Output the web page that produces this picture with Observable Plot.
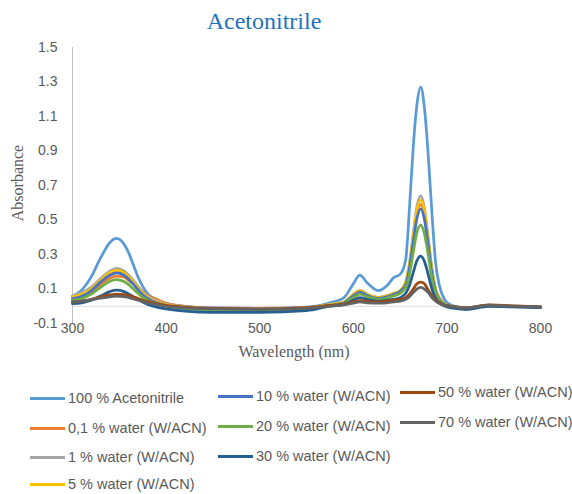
<!DOCTYPE html>
<html>
<head>
<meta charset="utf-8">
<script src="https://cdn.jsdelivr.net/npm/d3@7"></script>
<script src="https://cdn.jsdelivr.net/npm/@observablehq/plot@0.6"></script>
<style>
  html, body { margin: 0; padding: 0; background: #fff; }
  #wrap { position: relative; width: 572px; height: 494px; background: #fff; overflow: hidden; }
  #chart { position: absolute; left: 0; top: 0; }
  .title { position: absolute; left: 164px; top: 8px; width: 200px; text-align: center;
           font-family: "Liberation Serif", "Times New Roman", serif; font-size: 24px; line-height: 26px; color: #1E73BE; white-space: nowrap; }
  .axlabel { position: absolute; font-family: "Liberation Serif", "Times New Roman", serif; font-size: 16px; color: #595959; white-space: nowrap; line-height: 18px; }
  .leg { position: absolute; height: 18px; display: flex; align-items: center; white-space: nowrap;
         font-family: "Liberation Sans", Arial, sans-serif; font-size: 14.5px; color: #595959; }
  .leg .sw { display: inline-block; width: 35px; height: 3px; margin-right: 3px; }
</style>
</head>
<body>
<div id="wrap">
  <div id="chart"></div>
</div>
<script>
// ---- data ----
const wavelengths = [300,310,320,330,340,347,355,360,365,370, 375,380,390,400,420,450,500,550,575,590, 600,607,615,627,636,643,650,656,660,664, 668,672,676,680,684,688,692,698,705,720, 745,770,800];

const seriesNames = [
  "100 % Acetonitrile",
  "0,1 % water (W/ACN)",
  "1 % water (W/ACN)",
  "5 % water (W/ACN)",
  "10 % water (W/ACN)",
  "20 % water (W/ACN)",
  "30 % water (W/ACN)",
  "50 % water (W/ACN)",
  "70 % water (W/ACN)"
];
const seriesColors = ["#5B9BD5","#ED7D31","#A5A5A5","#FFC000","#4472C4","#70AD47","#255E91","#9E480E","#636363"];

const acn100  = [0.058,0.095,0.17,0.28,0.37,0.393,0.36,0.31,0.24,0.17, 0.115,0.075,0.035,0.015,0.0,-0.01,-0.012,-0.005,0.02,0.05, 0.13,0.18,0.135,0.09,0.12,0.165,0.185,0.27,0.57,0.92, 1.17,1.27,1.15,0.88,0.54,0.25,0.12,0.035,0.005,-0.01, 0.006,0.0,-0.004];
const water01 = [0.05,0.06,0.085,0.125,0.163,0.174,0.168,0.15,0.13,0.105, 0.085,0.065,0.04,0.018,0.0,-0.012,-0.015,-0.008,0.008,0.022, 0.062,0.085,0.065,0.048,0.057,0.07,0.085,0.13,0.23,0.385, 0.535,0.59,0.525,0.37,0.2,0.09,0.045,0.012,0.0,-0.012, 0.005,0.0,-0.005];
const water1  = [0.06,0.08,0.11,0.16,0.205,0.22,0.205,0.18,0.15,0.115, 0.085,0.06,0.03,0.012,-0.002,-0.01,-0.012,-0.008,0.01,0.025, 0.07,0.092,0.07,0.052,0.062,0.075,0.09,0.14,0.25,0.42, 0.58,0.64,0.57,0.40,0.22,0.10,0.05,0.015,0.0,-0.01, 0.006,0.002,-0.004];
const water5  = [0.055,0.07,0.10,0.15,0.195,0.208,0.195,0.17,0.14,0.105, 0.075,0.052,0.025,0.008,-0.005,-0.015,-0.018,-0.01,0.01,0.025, 0.068,0.09,0.068,0.05,0.06,0.075,0.09,0.14,0.24,0.40, 0.56,0.615,0.55,0.385,0.21,0.095,0.045,0.012,0.0,-0.012, 0.004,0.0,-0.005];
const water10 = [0.045,0.058,0.09,0.14,0.18,0.193,0.18,0.157,0.128,0.095, 0.067,0.045,0.018,0.003,-0.012,-0.02,-0.025,-0.018,0.005,0.02, 0.06,0.082,0.062,0.045,0.055,0.068,0.085,0.125,0.22,0.37, 0.51,0.565,0.505,0.355,0.19,0.085,0.04,0.01,-0.002,-0.015, 0.003,-0.002,-0.006];
const water20 = [0.035,0.045,0.07,0.11,0.145,0.154,0.143,0.125,0.1,0.075, 0.052,0.035,0.013,0.0,-0.012,-0.02,-0.022,-0.015,0.005,0.015, 0.05,0.07,0.055,0.04,0.048,0.06,0.075,0.11,0.185,0.31, 0.43,0.47,0.42,0.30,0.16,0.075,0.035,0.01,0.0,-0.012, 0.005,0.0,-0.004];
const water30 = [0.015,0.02,0.035,0.06,0.085,0.093,0.085,0.072,0.055,0.04, 0.025,0.012,-0.005,-0.015,-0.028,-0.035,-0.035,-0.025,0.0,0.01, 0.035,0.05,0.04,0.03,0.035,0.04,0.05,0.075,0.12,0.195, 0.265,0.29,0.26,0.185,0.10,0.045,0.02,0.0,-0.01,-0.018, 0.0,-0.004,-0.008];
const water50 = [0.025,0.03,0.04,0.055,0.066,0.07,0.068,0.062,0.055,0.045, 0.035,0.028,0.015,0.005,-0.005,-0.012,-0.015,-0.008,0.005,0.012, 0.025,0.032,0.028,0.025,0.03,0.035,0.04,0.05,0.07,0.10, 0.13,0.14,0.13,0.095,0.06,0.035,0.02,0.005,0.0,-0.01, 0.008,0.002,-0.003];
const water70 = [0.025,0.03,0.037,0.047,0.055,0.058,0.056,0.05,0.043,0.035, 0.027,0.02,0.01,0.0,-0.01,-0.015,-0.018,-0.012,0.0,0.008, 0.018,0.025,0.02,0.018,0.02,0.025,0.03,0.04,0.055,0.08, 0.10,0.11,0.10,0.08,0.05,0.03,0.015,0.005,0.0,-0.01, 0.005,0.0,-0.004];

const xTicks = [300,400,500,600,700,800];
const yTicks = [-0.1,0.1,0.3,0.5,0.7,0.9,1.1,1.3,1.5];

// ---- build long table ----
const allSeries = [acn100, water01, water1, water5, water10, water20, water30, water50, water70];
const rows = [];
allSeries.forEach((vals, s) => {
  vals.forEach((v, i) => rows.push({wl: wavelengths[i], a: v, series: seriesNames[s]}));
});

const chart = Plot.plot({
  width: 572,
  height: 370,
  marginLeft: 72,
  marginRight: 32,
  marginTop: 47,
  marginBottom: 47,
  x: {domain: [300, 800]},
  y: {domain: [-0.1, 1.5]},
  color: {domain: seriesNames, range: seriesColors},
  style: {fontFamily: "'Liberation Sans', Arial, sans-serif", fontSize: "14px", color: "#595959", background: "white"},
  marks: [
    Plot.ruleY([0], {stroke: "#d9d9d9", strokeWidth: 1}),
    Plot.ruleX([300], {y1: -0.1, y2: 1.5, stroke: "#bfbfbf", strokeWidth: 1}),
    Plot.axisX({ticks: xTicks, tickSize: 0, tickPadding: 0, label: null, tickFormat: d => String(d)}),
    Plot.axisY({ticks: yTicks, tickSize: 0, tickPadding: 15, label: null, tickFormat: d => String(d)}),
    Plot.line(rows, {x: "wl", y: "a", z: "series", stroke: "series", strokeWidth: 2.75, curve: "monotone-x"})
  ]
});
document.getElementById("chart").appendChild(chart);

const wrap = document.getElementById("wrap");
function addDiv(cls, text, style) {
  const d = document.createElement("div");
  d.className = cls;
  d.textContent = text;
  Object.assign(d.style, style);
  wrap.appendChild(d);
  return d;
}
addDiv("title", "Acetonitrile", {});
addDiv("axlabel", "Absorbance", {left: "18px", top: "183px", transform: "translate(-50%,-50%) rotate(-90deg)"});
addDiv("axlabel", "Wavelength (nm)", {left: "294px", top: "352px", transform: "translate(-50%,-50%)"});

// legend layout: column starts and row centers
const legendPos = [
  [30, 398], [30, 428], [30, 457], [30, 484],
  [218, 396], [218, 426], [218, 456],
  [400, 392], [400, 422]
];
seriesNames.forEach((name, i) => {
  const d = document.createElement("div");
  d.className = "leg";
  d.style.left = legendPos[i][0] + "px";
  d.style.top = (legendPos[i][1] - 9) + "px";
  const sw = document.createElement("span");
  sw.className = "sw";
  sw.style.background = seriesColors[i];
  d.appendChild(sw);
  d.appendChild(document.createTextNode(name));
  wrap.appendChild(d);
});
</script>
</body>
</html>
